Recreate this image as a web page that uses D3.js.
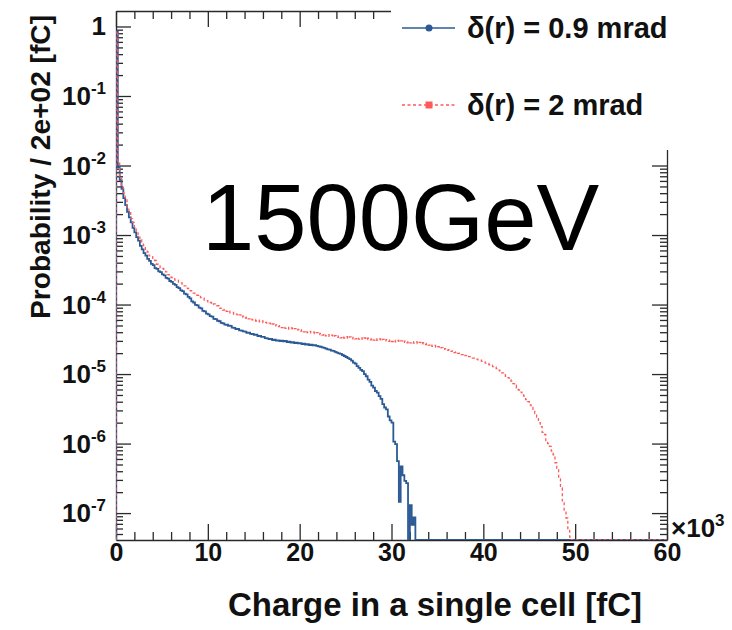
<!DOCTYPE html>
<html><head><meta charset="utf-8">
<script src="https://cdn.jsdelivr.net/npm/d3@7"></script>
<style>
body{margin:0;background:#fff}
text{font-family:"Liberation Sans",Arial,Helvetica,sans-serif}
</style></head>
<body>
<svg id="chart" width="732" height="630"></svg>
<script>
// ---------------- data ----------------
const binWidth = 200;                       // fC per bin
const chargeRange = [0, 60000];             // fC
const xTickLabels = [0, 10, 20, 30, 40, 50, 60];   // ×10^3 fC
const yDecadeExponents = [0, -1, -2, -3, -4, -5, -6, -7];
const seriesLabels = ["δ(r) = 0.9 mrad", "δ(r) = 2 mrad"];
const energyLabel = "1500GeV";
const xTitle = "Charge in a single cell [fC]";
const yTitle = "Probability / 2e+02 [fC]";

// δ(r) = 0.9 mrad, probability per 200 fC bin (300 bins, 0–60000 fC)
const blueValues = [
0.85,9.5e-3,6.2e-3,4.6e-3,3.4e-3,2.7e-3,2.15e-3,1.8e-3,1.52e-3,1.27e-3,
1.09e-3,9.3e-4,8.3e-4,7.0e-4,6.2e-4,5.5e-4,5.05e-4,4.55e-4,4.25e-4,3.85e-4,
3.7e-4,3.35e-4,3.25e-4,3.0e-4,2.92e-4,2.72e-4,2.63e-4,2.42e-4,2.36e-4,2.18e-4,
2.12e-4,1.98e-4,1.92e-4,1.78e-4,1.72e-4,1.6e-4,1.56e-4,1.44e-4,1.4e-4,1.29e-4,
1.23e-4,1.11e-4,1.07e-4,9.9e-5,9.7e-5,9.0e-5,8.8e-5,8.1e-5,8.0e-5,7.4e-5,
7.2e-5,6.8e-5,6.7e-5,6.2e-5,6.15e-5,5.85e-5,5.75e-5,5.45e-5,5.35e-5,5.15e-5,
5.12e-5,4.95e-5,4.92e-5,4.65e-5,4.62e-5,4.45e-5,4.45e-5,4.25e-5,4.22e-5,4.1e-5,
4.08e-5,3.92e-5,3.93e-5,3.78e-5,3.77e-5,3.66e-5,3.68e-5,3.52e-5,3.53e-5,3.42e-5,
3.42e-5,3.28e-5,3.27e-5,3.18e-5,3.2e-5,3.08e-5,3.12e-5,3.03e-5,3.04e-5,2.98e-5,
3.02e-5,2.95e-5,3.0e-5,2.88e-5,2.92e-5,2.84e-5,2.87e-5,2.79e-5,2.82e-5,2.77e-5,
2.78e-5,2.7e-5,2.73e-5,2.66e-5,2.7e-5,2.62e-5,2.65e-5,2.58e-5,2.6e-5,2.55e-5,
2.5e-5,2.47e-5,2.42e-5,2.38e-5,2.32e-5,2.27e-5,2.25e-5,2.18e-5,2.15e-5,2.08e-5,
2.04e-5,1.98e-5,1.95e-5,1.88e-5,1.82e-5,1.76e-5,1.7e-5,1.64e-5,1.56e-5,1.46e-5,
1.41e-5,1.3e-5,1.23e-5,1.15e-5,1.1e-5,1.0e-5,9.3e-6,8.3e-6,7.7e-6,6.8e-6,
6.4e-6,5.7e-6,5.4e-6,4.8e-6,4.4e-6,3.7e-6,3.3e-6,3.1e-6,2.45e-6,2.15e-6,
2.0e-6,1.07e-6,9.8e-7,5.6e-7,1.45e-7,4.7e-7,3.5e-7,2.9e-7,2.7e-7,0,
1.3e-7,6.8e-8,8.7e-8,0,0,0,0,0,0,0,
0,0,0,0,0,0,0,0,0,0,
0,0,0,0,0,0,0,0,0,0,
0,0,0,0,0,0,0,0,0,0,
0,0,0,0,0,0,0,0,0,0,
0,0,0,0,0,0,0,0,0,0,
0,0,0,0,0,0,0,0,0,0,
0,0,0,0,0,0,0,0,0,0,
0,0,0,0,0,0,0,0,0,0,
0,0,0,0,0,0,0,0,0,0,
0,0,0,0,0,0,0,0,0,0,
0,0,0,0,0,0,0,0,0,0,
0,0,0,0,0,0,0,0,0,0,
0,0,0,0,0,0,0,0,0,0,
0,0,0,0,0,0,0,0,0,0
];

// δ(r) = 2 mrad, probability per 200 fC bin
const redValues = [
0.85,1.15e-2,6.6e-3,5.2e-3,4.0e-3,3.3e-3,2.5e-3,2.15e-3,1.72e-3,1.52e-3,
1.24e-3,1.1e-3,9.3e-4,8.6e-4,7.4e-4,6.9e-4,6.0e-4,5.7e-4,5.0e-4,4.9e-4,
4.4e-4,4.3e-4,3.8e-4,3.75e-4,3.35e-4,3.3e-4,3.0e-4,2.95e-4,2.7e-4,2.65e-4,
2.45e-4,2.45e-4,2.25e-4,2.25e-4,2.05e-4,2.05e-4,1.86e-4,1.86e-4,1.72e-4,1.7e-4,
1.58e-4,1.57e-4,1.46e-4,1.44e-4,1.36e-4,1.37e-4,1.26e-4,1.24e-4,1.16e-4,1.14e-4,
1.06e-4,1.07e-4,1.0e-4,1.02e-4,9.6e-5,9.6e-5,8.8e-5,8.9e-5,8.3e-5,8.5e-5,
8.0e-5,8.2e-5,7.6e-5,7.7e-5,7.2e-5,7.3e-5,6.9e-5,7.1e-5,6.6e-5,6.8e-5,
6.4e-5,6.6e-5,6.2e-5,6.35e-5,6.0e-5,6.1e-5,5.8e-5,5.95e-5,5.65e-5,5.8e-5,
5.45e-5,5.55e-5,5.3e-5,5.4e-5,5.1e-5,5.25e-5,4.95e-5,5.1e-5,4.8e-5,4.95e-5,
4.65e-5,4.8e-5,4.55e-5,4.7e-5,4.45e-5,4.6e-5,4.35e-5,4.5e-5,4.25e-5,4.4e-5,
4.15e-5,4.3e-5,4.05e-5,4.2e-5,3.95e-5,4.1e-5,3.9e-5,4.0e-5,3.8e-5,3.95e-5,
3.7e-5,3.85e-5,3.62e-5,3.78e-5,3.55e-5,3.7e-5,3.5e-5,3.62e-5,3.42e-5,3.58e-5,
3.38e-5,3.52e-5,3.32e-5,3.48e-5,3.3e-5,3.45e-5,3.25e-5,3.42e-5,3.22e-5,3.38e-5,
3.2e-5,3.35e-5,3.18e-5,3.32e-5,3.15e-5,3.3e-5,3.12e-5,3.28e-5,3.1e-5,3.25e-5,
3.08e-5,3.22e-5,3.05e-5,3.2e-5,3.02e-5,3.15e-5,3.0e-5,3.12e-5,2.96e-5,3.1e-5,
2.94e-5,3.06e-5,2.9e-5,3.04e-5,2.88e-5,3.0e-5,2.85e-5,2.98e-5,2.82e-5,2.95e-5,
2.8e-5,2.92e-5,2.78e-5,2.9e-5,2.75e-5,2.86e-5,2.7e-5,2.82e-5,2.66e-5,2.76e-5,
2.6e-5,2.68e-5,2.5e-5,2.58e-5,2.42e-5,2.48e-5,2.34e-5,2.4e-5,2.26e-5,2.32e-5,
2.2e-5,2.24e-5,2.12e-5,2.16e-5,2.04e-5,2.08e-5,1.98e-5,2.0e-5,1.9e-5,1.94e-5,
1.84e-5,1.86e-5,1.78e-5,1.78e-5,1.7e-5,1.7e-5,1.64e-5,1.6e-5,1.58e-5,1.52e-5,
1.5e-5,1.44e-5,1.42e-5,1.36e-5,1.34e-5,1.28e-5,1.26e-5,1.2e-5,1.14e-5,1.1e-5,
1.04e-5,1.0e-5,9.3e-6,8.9e-6,8.3e-6,7.9e-6,7.3e-6,6.9e-6,6.3e-6,5.9e-6,
5.5e-6,5.0e-6,4.8e-6,4.3e-6,4.0e-6,3.6e-6,3.3e-6,2.9e-6,2.7e-6,2.4e-6,
2.0e-6,1.75e-6,1.45e-6,1.35e-6,1.1e-6,1.0e-6,9.1e-7,7.8e-7,6.9e-7,5.3e-7,
4.4e-7,3.1e-7,2.3e-7,1.5e-7,1.1e-7,8.5e-8,6.0e-8,4.5e-8,0,0,
0,0,0,0,0,0,0,0,0,0,
0,0,0,0,0,0,0,0,0,0,
0,0,0,0,0,0,0,0,0,0,
0,0,0,0,0,0,0,0,0,0,
0,0,0,0,0,0,0,0,0,0
];

// ---------------- drawing ----------------
const svg = d3.select("#chart");
const L = 116, R = 667, T = 11, B = 540;
const yMin = 4.1e-8, yMax = 1.67;
const x = d3.scaleLinear().domain(chargeRange).range([L, R]);
const y = d3.scaleLog().domain([yMin, yMax]).range([B, T]).clamp(true);

const axisColor = "#2a2a2a";
const blue = "#2c5a95";
const red = "#ff5a5a";

svg.append("defs").append("clipPath").attr("id", "plotClip")
  .append("rect").attr("x", L).attr("y", T).attr("width", R - L).attr("height", B - T);

function styleAxis(g) {
  g.selectAll("path").attr("stroke", axisColor).attr("stroke-width", 1.3);
  g.selectAll("line").attr("stroke", axisColor).attr("stroke-width", 1.3);
}
const xMajor = xTickLabels.map(v => v * 1000);
const xMinor = d3.range(chargeRange[0], chargeRange[1] + 1, 2000).filter(v => v % 10000 !== 0);
const yMajor = yDecadeExponents.map(e => Math.pow(10, e));
const yMinor = [];
for (let e = -8; e <= 0; e++) for (let m = 2; m <= 9; m++) {
  const v = m * Math.pow(10, e);
  if (v > yMin && v < yMax) yMinor.push(v);
}

// bottom axis
const gB = svg.append("g").attr("transform", `translate(0,${B})`)
  .call(d3.axisBottom(x).tickValues(xMajor).tickSize(-16).tickSizeOuter(0).tickPadding(3)
        .tickFormat(d => d / 1000));
gB.selectAll("text").attr("font-size", 25).attr("font-weight", "bold").attr("fill", "#111");
styleAxis(gB);
const gBm = svg.append("g").attr("transform", `translate(0,${B})`)
  .call(d3.axisBottom(x).tickValues(xMinor).tickSize(-8).tickSizeOuter(0).tickFormat(""));
gBm.select("path").remove(); styleAxis(gBm);

// top axis
const gT = svg.append("g").attr("transform", `translate(0,${T})`)
  .call(d3.axisTop(x).tickValues(xMajor).tickSize(-16).tickSizeOuter(0).tickFormat(""));
styleAxis(gT);
const gTm = svg.append("g").attr("transform", `translate(0,${T})`)
  .call(d3.axisTop(x).tickValues(xMinor).tickSize(-8).tickSizeOuter(0).tickFormat(""));
gTm.select("path").remove(); styleAxis(gTm);

// left axis
const gL = svg.append("g").attr("transform", `translate(${L},0)`)
  .call(d3.axisLeft(y).tickValues(yMajor).tickSize(-15).tickSizeOuter(0).tickFormat(""));
styleAxis(gL);
const gLm = svg.append("g").attr("transform", `translate(${L},0)`)
  .call(d3.axisLeft(y).tickValues(yMinor).tickSize(-7).tickSizeOuter(0).tickFormat(""));
gLm.select("path").remove(); styleAxis(gLm);

// right axis
const gR = svg.append("g").attr("transform", `translate(${R},0)`)
  .call(d3.axisRight(y).tickValues(yMajor).tickSize(-15).tickSizeOuter(0).tickFormat(""));
styleAxis(gR);
const gRm = svg.append("g").attr("transform", `translate(${R},0)`)
  .call(d3.axisRight(y).tickValues(yMinor).tickSize(-7).tickSizeOuter(0).tickFormat(""));
gRm.select("path").remove(); styleAxis(gRm);

// y tick labels
const yLab = svg.append("g");
yDecadeExponents.forEach(e => {
  const t = yLab.append("text").attr("x", 106).attr("y", y(Math.pow(10, e)) + 9)
    .attr("text-anchor", "end").attr("font-size", 26).attr("font-weight", "bold").attr("fill", "#111");
  if (e === 0) { t.text("1"); }
  else {
    t.append("tspan").text("10");
    t.append("tspan").attr("dy", -11).attr("font-size", 17).text(String(e));
  }
});

// ×10^3
const xm = svg.append("text").attr("x", 671).attr("y", 537)
  .attr("font-size", 26).attr("font-weight", "bold").attr("fill", "#111");
xm.append("tspan").text("×10");
xm.append("tspan").attr("dy", -11).attr("font-size", 17).text("3");

// histograms
function stepPoints(vals) {
  const pts = [[chargeRange[0], 0]];
  vals.forEach((v, i) => {
    pts.push([i * binWidth, v]);
    pts.push([(i + 1) * binWidth, v]);
  });
  return pts;
}
const line = d3.line().x(d => x(d[0])).y(d => y(d[1] > 0 ? d[1] : yMin));
const plot = svg.append("g").attr("clip-path", "url(#plotClip)");
plot.append("path").attr("d", line(stepPoints(blueValues)))
  .attr("fill", "none").attr("stroke", blue).attr("stroke-width", 1.8);
plot.append("path").attr("d", line(stepPoints(redValues)))
  .attr("fill", "none").attr("stroke", red).attr("stroke-width", 1.3)
  .attr("stroke-dasharray", "3,2.5");

// axis titles
svg.append("text").attr("x", 642).attr("y", 616).attr("text-anchor", "end")
  .attr("font-size", 33).attr("font-weight", "bold").attr("fill", "#111")
  .attr("textLength", 414).attr("lengthAdjust", "spacingAndGlyphs").text(xTitle);
svg.append("text").attr("transform", "translate(50,15) rotate(-90)").attr("text-anchor", "end")
  .attr("font-size", 28).attr("font-weight", "bold").attr("fill", "#111")
  .attr("textLength", 304).attr("lengthAdjust", "spacingAndGlyphs").text(yTitle);

// legend (opaque box covering the frame corner)
svg.append("rect").attr("x", 391).attr("y", 0).attr("width", 341).attr("height", 150).attr("fill", "#fff");
const legendY = [28, 105];
const lg = svg.append("g");
lg.append("line").attr("x1", 402).attr("x2", 455).attr("y1", legendY[0]).attr("y2", legendY[0])
  .attr("stroke", blue).attr("stroke-width", 1.6);
lg.append("circle").attr("cx", 429).attr("cy", legendY[0]).attr("r", 3.5).attr("fill", blue);
lg.append("text").attr("x", 467).attr("y", legendY[0] + 10).attr("font-size", 29)
  .attr("font-weight", "bold").attr("fill", "#111").text(seriesLabels[0]);
lg.append("line").attr("x1", 402).attr("x2", 455).attr("y1", legendY[1]).attr("y2", legendY[1])
  .attr("stroke", red).attr("stroke-width", 1.3).attr("stroke-dasharray", "3,2.5");
lg.append("rect").attr("x", 425.5).attr("y", legendY[1] - 3.5).attr("width", 7).attr("height", 7).attr("fill", red);
lg.append("text").attr("x", 467).attr("y", legendY[1] + 10).attr("font-size", 29)
  .attr("font-weight", "bold").attr("fill", "#111").text(seriesLabels[1]);

// energy annotation
svg.append("text").attr("x", 202).attr("y", 250).attr("font-size", 94)
  .attr("fill", "#000").text(energyLabel);
</script>
</body></html>
